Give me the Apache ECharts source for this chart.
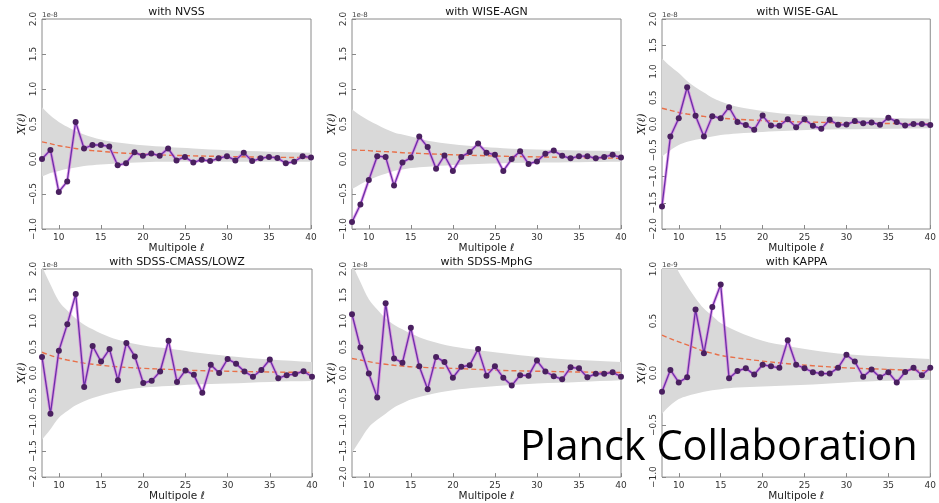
<!DOCTYPE html>
<html><head><meta charset="utf-8">
<script src="https://cdn.jsdelivr.net/npm/echarts@6/dist/echarts.min.js"></script>
<style>html,body{margin:0;padding:0;background:#fff}#c{width:939px;height:503px}</style>
</head><body><div id="c"></div>
<script>
// ---- data ----
const ells = [8,9,10,11,12,13,14,15,16,17,18,19,20,21,22,23,24,25,26,27,28,29,30,31,32,33,34,35,36,37,38,39,40];
const bandEll = [8,9,10,11,12,13,14,15,17,20,23,26,30,35,40];
const xTickValues = [10,15,20,25,30,35,40];
const titles = ['with NVSS','with WISE-AGN','with WISE-GAL','with SDSS-CMASS/LOWZ','with SDSS-MphG','with KAPPA'];
const scaleLabels = ['1e-8','1e-8','1e-8','1e-8','1e-8','1e-9'];
const yMin = [-1,-1,-2,-2,-2,-1];
const yMax = [2,2,2,2,2,1];
const yStep = 0.5;

const nvssData   = [0.0,0.13,-0.47,-0.32,0.53,0.15,0.20,0.20,0.18,-0.09,-0.06,0.095,0.045,0.08,0.045,0.15,-0.02,0.03,-0.05,-0.01,-0.03,0.01,0.04,-0.02,0.09,-0.03,0.01,0.03,0.015,-0.06,-0.04,0.04,0.02];
const nvssTheory = [0.245,0.22,0.19,0.17,0.15,0.135,0.12,0.11,0.09,0.07,0.055,0.045,0.035,0.025,0.02];
const nvssLow    = [-0.25,-0.20,-0.17,-0.14,-0.12,-0.10,-0.09,-0.08,-0.065,-0.045,-0.04,-0.04,-0.04,-0.04,-0.04];
const nvssHigh   = [0.74,0.62,0.53,0.46,0.40,0.35,0.31,0.28,0.235,0.195,0.17,0.15,0.125,0.105,0.09];

const agnData    = [-0.9,-0.65,-0.30,0.04,0.03,-0.38,-0.05,0.02,0.32,0.17,-0.14,0.05,-0.17,0.03,0.10,0.22,0.09,0.06,-0.17,0.0,0.11,-0.07,-0.035,0.075,0.12,0.045,0.01,0.04,0.04,0.01,0.03,0.06,0.02];
const agnTheory  = [0.13,0.125,0.12,0.11,0.105,0.10,0.09,0.085,0.075,0.06,0.05,0.04,0.03,0.02,0.01];
const agnLow     = [-0.43,-0.36,-0.30,-0.25,-0.21,-0.17,-0.15,-0.13,-0.11,-0.085,-0.07,-0.06,-0.05,-0.045,-0.04];
const agnHigh    = [0.71,0.62,0.55,0.49,0.43,0.38,0.35,0.32,0.26,0.21,0.18,0.155,0.135,0.12,0.11];

const galData    = [-1.57,-0.24,0.11,0.70,0.155,-0.24,0.15,0.11,0.32,0.04,-0.02,-0.11,0.16,-0.03,-0.035,0.09,-0.06,0.09,-0.035,-0.09,0.08,-0.015,-0.01,0.055,0.015,0.03,-0.015,0.12,0.04,-0.03,0.0,0.0,-0.02];
const galTheory  = [0.30,0.26,0.22,0.19,0.17,0.145,0.125,0.11,0.09,0.065,0.045,0.035,0.02,0.01,0.0];
const galLow     = [-0.62,-0.50,-0.40,-0.34,-0.30,-0.27,-0.24,-0.21,-0.18,-0.15,-0.13,-0.11,-0.10,-0.09,-0.08];
const galHigh    = [1.25,1.10,0.97,0.82,0.70,0.60,0.50,0.43,0.33,0.25,0.19,0.16,0.135,0.115,0.10];

const cmassData   = [0.31,-0.78,0.43,0.94,1.52,-0.27,0.52,0.22,0.46,-0.14,0.58,0.32,-0.19,-0.15,0.03,0.62,-0.17,0.05,-0.035,-0.38,0.16,0.0,0.27,0.18,0.03,-0.07,0.06,0.26,-0.10,-0.04,-0.02,0.035,-0.07];
const cmassTheory = [0.40,0.34,0.29,0.25,0.22,0.19,0.17,0.15,0.12,0.09,0.07,0.05,0.035,0.02,0.01];
const cmassLow    = [-1.28,-1.08,-0.86,-0.73,-0.62,-0.54,-0.48,-0.43,-0.35,-0.28,-0.25,-0.22,-0.20,-0.17,-0.155];
const cmassHigh   = [2.05,1.70,1.38,1.20,1.05,0.93,0.84,0.76,0.64,0.53,0.47,0.40,0.33,0.26,0.21];

const mphgData    = [1.13,0.49,-0.01,-0.47,1.34,0.28,0.20,0.87,0.13,-0.31,0.31,0.21,-0.09,0.12,0.15,0.46,-0.05,0.13,-0.09,-0.24,-0.04,-0.05,0.24,0.03,-0.06,-0.12,0.11,0.09,-0.08,-0.015,-0.015,0.015,-0.07];
const mphgTheory  = [0.28,0.25,0.22,0.19,0.17,0.15,0.135,0.12,0.105,0.09,0.07,0.05,0.035,0.02,0.01];
const mphgLow     = [-1.53,-1.28,-1.04,-0.90,-0.78,-0.66,-0.58,-0.51,-0.42,-0.33,-0.28,-0.24,-0.20,-0.17,-0.14];
const mphgHigh    = [2.10,1.75,1.42,1.22,1.05,0.93,0.84,0.76,0.63,0.51,0.44,0.38,0.31,0.25,0.21];

const kappaData   = [-0.18,0.03,-0.09,-0.04,0.61,0.19,0.635,0.85,-0.05,0.02,0.046,-0.015,0.08,0.065,0.05,0.315,0.08,0.046,0.008,-0.005,-0.005,0.05,0.175,0.11,-0.035,0.035,-0.04,0.008,-0.09,0.01,0.05,-0.02,0.05];
const kappaTheory = [0.365,0.33,0.30,0.27,0.24,0.21,0.19,0.17,0.145,0.115,0.09,0.07,0.05,0.035,0.02];
const kappaLow    = [-0.39,-0.31,-0.25,-0.22,-0.20,-0.18,-0.165,-0.155,-0.14,-0.13,-0.12,-0.11,-0.09,-0.075,-0.065];
const kappaHigh   = [1.40,1.15,0.97,0.84,0.72,0.62,0.55,0.48,0.40,0.31,0.26,0.22,0.18,0.155,0.135];

const xName = 'Multipole \u2113';
const yName = 'X(\u2113)';
const creditText = 'Planck Collaboration';

// ---- build ----
const panels = [
  {d:nvssData, t:nvssTheory, lo:nvssLow, hi:nvssHigh},
  {d:agnData, t:agnTheory, lo:agnLow, hi:agnHigh},
  {d:galData, t:galTheory, lo:galLow, hi:galHigh},
  {d:cmassData, t:cmassTheory, lo:cmassLow, hi:cmassHigh},
  {d:mphgData, t:mphgTheory, lo:mphgLow, hi:mphgHigh},
  {d:kappaData, t:kappaTheory, lo:kappaLow, hi:kappaHigh}
];
const rects = [
  {left:42, top:19, width:269, height:210},
  {left:352, top:19, width:269, height:210},
  {left:662, top:19, width:270, height:210},
  {left:42, top:269, width:270, height:211},
  {left:352, top:269, width:269, height:211},
  {left:662, top:269, width:269, height:211}
];
const FONT = 'DejaVu Sans';
const grid = [], xAxis = [], yAxis = [], series = [], title = [], graphic = [];
rects.forEach((r, i) => {
  grid.push({left:r.left, top:r.top, width:r.width, height:r.height, show:true,
    borderColor:'#8a8a8a', borderWidth:1, backgroundColor:'transparent'});
  title.push({text:titles[i], left:r.left + r.width/2, top:r.top - 12, textAlign:'center',
    textStyle:{fontFamily:FONT, fontSize:11, fontWeight:'normal', color:'#111'}, padding:0});
  graphic.push({type:'text', left:r.left, top:r.top - 7,
    style:{text:scaleLabels[i], font:'7px "DejaVu Sans"', fill:'#444'}});
  xAxis.push({type:'value', gridIndex:i, min:8, max:40,
    name:xName, nameLocation:'middle', nameGap:12,
    nameTextStyle:{fontFamily:FONT, fontSize:10.5, color:'#222'},
    axisLine:{show:false, onZero:false}, splitLine:{show:false},
    axisTick:{show:true, inside:true, length:4, customValues:xTickValues, lineStyle:{color:'#888'}},
    axisLabel:{customValues:xTickValues, fontFamily:FONT, fontSize:9, color:'#333', margin:4}});
  yAxis.push({type:'value', gridIndex:i, min:yMin[i], max:yMax[i], interval:yStep,
    name:yName, nameLocation:'middle', nameGap:13, nameRotate:90,
    nameTextStyle:{fontFamily:'DejaVu Serif', fontStyle:'italic', fontSize:11, color:'#222'},
    axisLine:{show:false, onZero:false}, splitLine:{show:false},
    axisTick:{show:true, inside:true, length:4, lineStyle:{color:'#888'}},
    axisLabel:{rotate:90, fontFamily:FONT, fontSize:9, color:'#333', margin:4,
      formatter: v => (v < 0 ? '\u2212' : '') + Math.abs(v).toFixed(1)}});
  const p = panels[i];
  series.push({type:'custom', xAxisIndex:i, yAxisIndex:i, silent:true, z:1,
    data: bandEll.map((l,k) => [l, p.lo[k], p.hi[k]]),
    encode:{x:0, y:[1,2]},
    renderItem: (params, api) => {
      if (params.dataIndex !== 0) return null;
      const n = bandEll.length;
      const pts = [];
      pts.push(api.coord([bandEll[0], p.hi[0]]));
      for (let k = 0; k < n; k++) pts.push(api.coord([bandEll[k], p.hi[k]]));
      pts.push(api.coord([bandEll[n-1], p.hi[n-1]]));
      pts.push(api.coord([bandEll[n-1], p.lo[n-1]]));
      for (let k = n - 1; k >= 0; k--) pts.push(api.coord([bandEll[k], p.lo[k]]));
      pts.push(api.coord([bandEll[0], p.lo[0]]));
      const cs = params.coordSys;
      return {type:'polygon', shape:{points:pts, smooth:0.35}, style:{fill:'#d9d9d9'},
        clipPath:{type:'rect', shape:{x:cs.x, y:cs.y, width:cs.width, height:cs.height}}};
    }});
  series.push({type:'line', xAxisIndex:i, yAxisIndex:i,
    data: bandEll.map((l,k) => [l, p.t[k]]), smooth:0.35, symbol:'none', silent:true,
    lineStyle:{color:'#e8704a', width:1.4, type:[5,3]}, z:3});
  series.push({type:'line', xAxisIndex:i, yAxisIndex:i,
    data: ells.map((l,k) => [l, p.d[k]]), symbol:'none', silent:true,
    lineStyle:{color:'#d866e0', width:3, opacity:0.6}, z:4});
  series.push({type:'line', xAxisIndex:i, yAxisIndex:i,
    data: ells.map((l,k) => [l, p.d[k]]), symbol:'circle', symbolSize:6, silent:true,
    itemStyle:{color:'#4a2060', borderWidth:0},
    lineStyle:{color:'#6a30a8', width:1.3}, z:5});
});
graphic.push({type:'text', left:520, top:427, z:100,
  style:{text:creditText, font:'41.5px "Open Sans"', fill:'#000'}});

const chart = echarts.init(document.getElementById('c'), null, {renderer:'canvas'});
chart.setOption({animation:false, backgroundColor:'#fff', title, grid, xAxis, yAxis, series, graphic});
</script></body></html>
